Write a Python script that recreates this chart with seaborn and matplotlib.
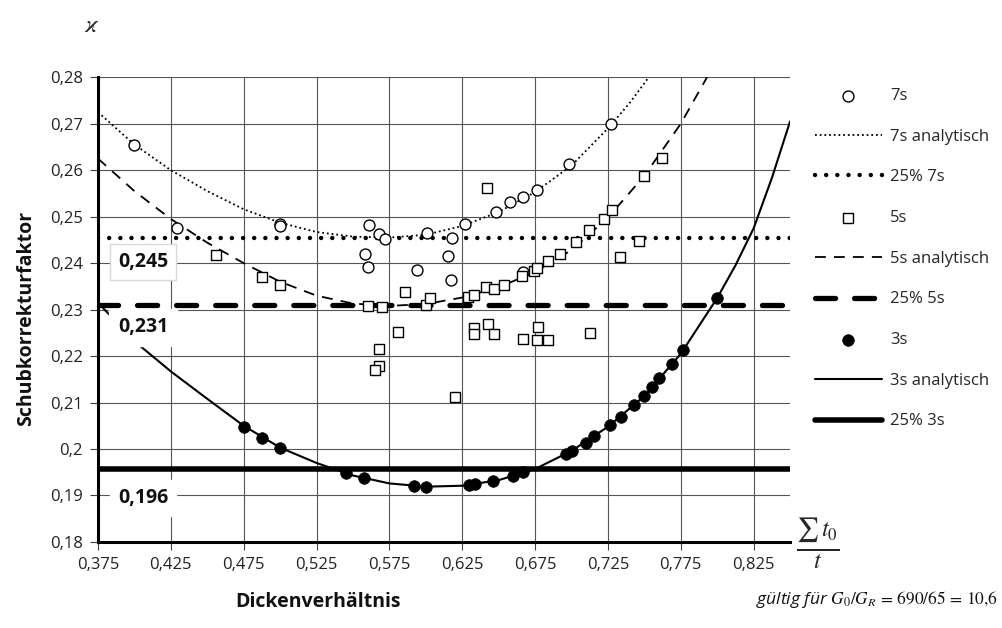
import numpy as np
import matplotlib
matplotlib.use('Agg')
import matplotlib.pyplot as plt
import seaborn as sns
from matplotlib.ticker import FuncFormatter

x_7s = [0.400, 0.429, 0.500, 0.500, 0.558, 0.560, 0.561, 0.568, 0.572, 0.594, 0.601,
        0.615, 0.617, 0.618, 0.627, 0.648, 0.658, 0.667, 0.667, 0.676, 0.698, 0.727]
y_7s = [0.2655, 0.2475, 0.2485, 0.2480, 0.2420, 0.2392, 0.2482, 0.2462, 0.2453, 0.2385, 0.2464,
        0.2416, 0.2364, 0.2455, 0.2485, 0.2510, 0.2531, 0.2543, 0.2381, 0.2557, 0.2613, 0.2699]

x_5s = [0.456, 0.4875, 0.500, 0.560, 0.570, 0.586, 0.600, 0.603, 0.629, 0.633, 0.641, 0.647,
        0.654, 0.666, 0.674, 0.676, 0.684, 0.692, 0.703, 0.712, 0.7226, 0.728, 0.7497, 0.762,
        0.746, 0.733, 0.642, 0.581, 0.568, 0.568, 0.5653, 0.6203, 0.6328, 0.6333, 0.6427,
        0.6471, 0.6665, 0.677, 0.6764, 0.6837, 0.7125]
y_5s = [0.2418, 0.2370, 0.2354, 0.2308, 0.2306, 0.2338, 0.2310, 0.2324, 0.2328, 0.2332, 0.2348, 0.2344,
        0.2353, 0.2372, 0.2384, 0.2389, 0.2404, 0.2419, 0.2446, 0.2472, 0.2496, 0.2514, 0.2588, 0.2627,
        0.2447, 0.2414, 0.2562, 0.2252, 0.2215, 0.2179, 0.2170, 0.2111, 0.2261, 0.2247, 0.2268,
        0.2247, 0.2236, 0.2262, 0.2235, 0.2235, 0.2249]

x_3s = [0.4753, 0.4875, 0.500, 0.5454, 0.5573, 0.5917, 0.6001, 0.6294, 0.634, 0.6461, 0.6599,
        0.6665, 0.6965, 0.7004, 0.7096, 0.7153, 0.7267, 0.7341, 0.7432, 0.7497, 0.7554, 0.7602,
        0.7691, 0.7764, 0.7996]
y_3s = [0.2047, 0.2024, 0.2003, 0.1948, 0.1937, 0.1921, 0.1919, 0.1923, 0.1925, 0.1932, 0.1941,
        0.1951, 0.1990, 0.1995, 0.2014, 0.2027, 0.2052, 0.2068, 0.2095, 0.2115, 0.2134, 0.2152,
        0.2183, 0.2213, 0.2324]

# --- analytic curves ---
xa_7s = [0.375, 0.40, 0.425, 0.45, 0.475, 0.50, 0.525, 0.55, 0.575, 0.60, 0.625, 0.65,
         0.675, 0.70, 0.725, 0.74, 0.753]
ya_7s = [0.2725, 0.2655, 0.2600, 0.2555, 0.2516, 0.2487, 0.2467, 0.2457, 0.2455, 0.2461, 0.2480, 0.2510,
         0.2553, 0.2610, 0.2690, 0.2745, 0.2800]

xa_5s = [0.375, 0.40, 0.425, 0.45, 0.475, 0.50, 0.525, 0.55, 0.575, 0.60, 0.625, 0.65,
         0.675, 0.70, 0.725, 0.75, 0.775, 0.793]
ya_5s = [0.2625, 0.2555, 0.2495, 0.2444, 0.2400, 0.2360, 0.2330, 0.2313, 0.2308, 0.2312, 0.2326, 0.2348,
         0.2381, 0.2428, 0.2498, 0.2588, 0.2700, 0.2800]

xa_3s = [0.375, 0.40, 0.425, 0.45, 0.475, 0.50, 0.525, 0.55, 0.575, 0.60, 0.625, 0.65,
         0.675, 0.70, 0.725, 0.75, 0.775, 0.80, 0.8125, 0.825, 0.8375, 0.85]
ya_3s = [0.2315, 0.2232, 0.2167, 0.2108, 0.2050, 0.2003, 0.1970, 0.1943, 0.1926, 0.1919, 0.1921, 0.1933,
         0.1957, 0.1996, 0.2048, 0.2114, 0.2205, 0.2325, 0.2395, 0.2475, 0.2583, 0.2705]

# 25% quantile levels
q25_7s = 0.2454
q25_5s = 0.2310
q25_3s = 0.1956

x_ticks = [0.375, 0.425, 0.475, 0.525, 0.575, 0.625, 0.675, 0.725, 0.775, 0.825]
y_ticks = [0.18, 0.19, 0.20, 0.21, 0.22, 0.23, 0.24, 0.25, 0.26, 0.27, 0.28]


def de(v, p=None):
    return ('%g' % round(v, 3)).replace('.', ',')


sns.set_style('white')
plt.rcParams['font.family'] = ['Open Sans', 'DejaVu Sans']
plt.rcParams['mathtext.fontset'] = 'stix'

fig = plt.figure(figsize=(10.03, 6.28), dpi=100)
ax = fig.add_axes([0.0977, 0.137, 0.690, 0.740])

# 7s
sns.scatterplot(x=x_7s, y=y_7s, ax=ax, marker='o', s=62, color='white', edgecolor='black',
                linewidth=1.0, label='7s', zorder=5)
sns.lineplot(x=xa_7s, y=ya_7s, ax=ax, sort=False, estimator=None, color='black', lw=1.3,
             linestyle=(0, (1, 1.6)), label='7s analytisch', zorder=3)
ax.axhline(q25_7s, color='black', lw=3.2, linestyle=(0, (0.01, 2.5)), dash_capstyle='round',
           label='25% 7s', zorder=2)
# 5s
sns.scatterplot(x=x_5s, y=y_5s, ax=ax, marker='s', s=62, color='white', edgecolor='black',
                linewidth=1.0, label='5s', zorder=5)
sns.lineplot(x=xa_5s, y=ya_5s, ax=ax, sort=False, estimator=None, color='black', lw=1.3,
             linestyle=(0, (6, 4.5)), label='5s analytisch', zorder=3)
ax.axhline(q25_5s, color='black', lw=3.8, linestyle=(0, (3.8, 3.6)), dash_capstyle='round',
           label='25% 5s', zorder=2)
# 3s
sns.scatterplot(x=x_3s, y=y_3s, ax=ax, marker='o', s=70, color='black', edgecolor='black',
                linewidth=0.5, label='3s', zorder=5)
sns.lineplot(x=xa_3s, y=ya_3s, ax=ax, sort=False, estimator=None, color='black', lw=1.5,
             label='3s analytisch', zorder=3)
ax.axhline(q25_3s, color='black', lw=4.0, label='25% 3s', zorder=2)

ax.set_xlim(0.375, 0.85)
ax.set_ylim(0.18, 0.28)
ax.set_xticks(x_ticks)
ax.set_yticks(y_ticks)
ax.xaxis.set_major_formatter(FuncFormatter(de))
ax.yaxis.set_major_formatter(FuncFormatter(de))
ax.grid(True, color='#555555', lw=0.8)
ax.set_axisbelow(True)
ax.tick_params(bottom=True, left=True, direction='out', length=6, width=0.8, color='#404040',
               labelsize=12, labelcolor='#222222', pad=5)
for s in ['top', 'right']:
    ax.spines[s].set_visible(False)
for s in ['left', 'bottom']:
    ax.spines[s].set_color('black')
    ax.spines[s].set_linewidth(2.2)
    ax.spines[s].set_zorder(6)
ax.set_xlabel('')
ax.set_ylabel('')

# value labels of the 25% lines
ax.text(0.406, 0.2403, de(q25_7s), ha='center', va='center', fontsize=14, fontweight='bold',
        color='#111111', zorder=7,
        bbox=dict(boxstyle='square,pad=0.4', fc='white', ec='#d9d9d9', lw=1))
ax.text(0.406, 0.2262, de(q25_5s), ha='center', va='center', fontsize=14, fontweight='bold',
        color='#111111', zorder=7, bbox=dict(boxstyle='square,pad=0.45', fc='white', ec='white'))
ax.text(0.406, 0.1895, de(q25_3s), ha='center', va='center', fontsize=14, fontweight='bold',
        color='#111111', zorder=7, bbox=dict(boxstyle='square,pad=0.4', fc='white', ec='white'))

h, l = ax.get_legend_handles_labels()
if ax.get_legend() is not None:
    ax.get_legend().remove()
fig.legend(h, l, loc='upper left', bbox_to_anchor=(815 / 1003, 1 - 88 / 628), frameon=False,
           fontsize=12, handlelength=4.0, handletextpad=0.5, labelspacing=1.48,
           borderpad=0, borderaxespad=0)

fig.text(26 / 1003, 1 - 318 / 628, 'Schubkorrekturfaktor', rotation=90, ha='center', va='center',
         fontsize=14, fontweight='bold', color='#111111')
fig.text(318 / 1003, 1 - 602 / 628, 'Dickenverhältnis', ha='center', va='center',
         fontsize=14, fontweight='bold', color='#111111')
fig.text(92 / 1003, 1 - 26 / 628, r'$\varkappa$', ha='center', va='center', fontsize=17)
fig.text(818 / 1003, 1 - 544 / 628, r'$\frac{\sum\,t_0}{t}$', ha='center', va='center', fontsize=25)
fig.text(998 / 1003, 1 - 600 / 628, r'gültig für $G_0/G_R\,=\,690/65\,=\,10{,}6$', ha='right',
         va='center', fontsize=12.5, style='italic', color='#111111')

fig.savefig('out.png', dpi=100)
